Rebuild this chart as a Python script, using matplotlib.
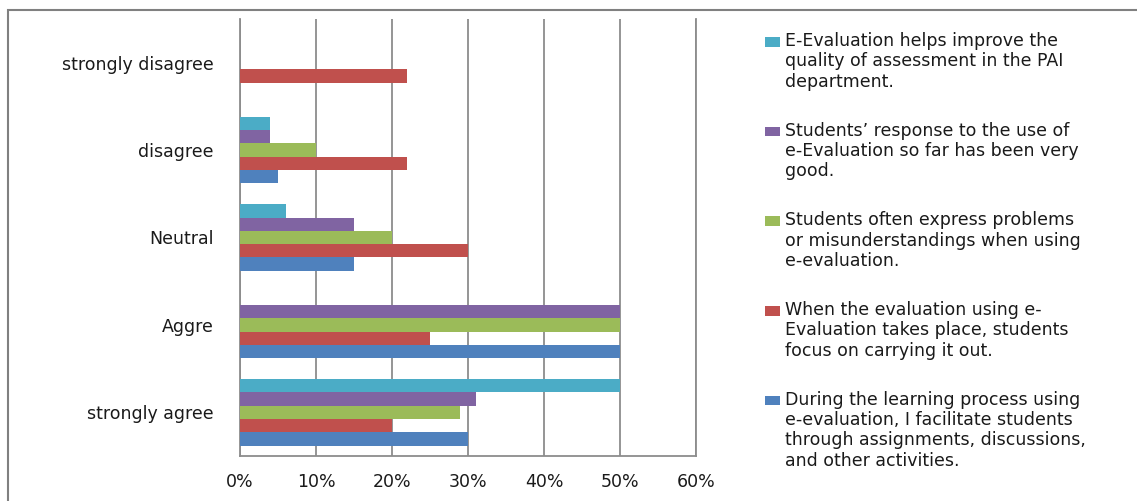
import matplotlib
matplotlib.use('Agg')
import matplotlib.pyplot as plt
from matplotlib.patches import Patch, Rectangle
from matplotlib.legend_handler import HandlerPatch
import numpy as np

# Categories (bottom to top as drawn)
categories = ['strongly agree', 'Aggre', 'Neutral', 'disagree', 'strongly disagree']

# Percentages per statement, same order as categories
during_learning = [30, 50, 15, 5, 0]
when_evaluation = [20, 25, 30, 22, 22]
often_problems = [29, 50, 20, 10, 0]
students_response = [31, 50, 15, 4, 0]
helps_improve = [50, 0, 6, 4, 0]

labels = [
    'During the learning process using\ne-evaluation, I facilitate students\nthrough assignments, discussions,\nand other activities.',
    'When the evaluation using e-\nEvaluation takes place, students\nfocus on carrying it out.',
    'Students often express problems\nor misunderstandings when using\ne-evaluation.',
    'Students\u2019 response to the use of\ne-Evaluation so far has been very\ngood.',
    'E-Evaluation helps improve the\nquality of assessment in the PAI\ndepartment.',
]
series = [during_learning, when_evaluation, often_problems, students_response, helps_improve]
colors = ['#4F81BD', '#C0504D', '#9BBB59', '#8064A2', '#4BACC6']
xticks = [0, 10, 20, 30, 40, 50, 60]

FS = 12.5
LS = 1.17

plt.rcParams['font.family'] = ['DejaVu Sans']

fig = plt.figure(figsize=(11.37, 5.01), dpi=100)
ax = fig.add_axes([240 / 1137, 1 - 456 / 501, 456 / 1137, 437 / 501])

y = np.arange(len(categories))
h = 0.152
for i, (vals, c) in enumerate(zip(series, colors)):
    ax.barh(y + (i - 2) * h, vals, height=h, color=c, zorder=3)

ax.set_xlim(0, 60)
ax.set_ylim(-0.5, 4.5)
ax.set_xticks(xticks)
ax.set_xticklabels([f'{v}%' for v in xticks], fontsize=FS, color='#1a1a1a')
ax.set_yticks(y)
ax.set_yticklabels(categories, fontsize=FS, color='#1a1a1a')
ax.tick_params(axis='x', length=0, pad=12)
ax.tick_params(axis='y', length=0, pad=19)
ax.grid(axis='x', color='#8C8C8C', linewidth=1.3, zorder=0)
ax.grid(axis='y', visible=False)
ax.spines['top'].set_visible(False)
for s in ['left', 'bottom', 'right']:
    ax.spines[s].set_color('#8C8C8C')
    ax.spines[s].set_linewidth(1.3)


# legend key sits next to the first line of each (multi-line) entry
def top_aligned(text):
    n = text.count('\n') + 1

    def make(legend, orig_handle, xdescent, ydescent, width, height, fontsize):
        shift = (n - 1) / 2 * LS * fontsize
        return Rectangle((-xdescent, -ydescent + shift), width, height)
    return HandlerPatch(patch_func=make)


handles = [Patch(facecolor=c, edgecolor='none') for c in colors][::-1]
leg_labels = labels[::-1]
leg = fig.legend(handles, leg_labels, loc='upper left',
                 bbox_to_anchor=(765 / 1137, 1 - 32 / 501),
                 frameon=False, fontsize=FS, handlelength=0.86,
                 handleheight=0.46, handletextpad=0.3, labelspacing=1.78,
                 borderaxespad=0, borderpad=0,
                 handler_map={hd: top_aligned(t) for hd, t in zip(handles, leg_labels)})
for t in leg.get_texts():
    t.set_linespacing(LS)
    t.set_color('#1a1a1a')

# outer chart frame
fig.patches.append(Rectangle((8 / 1137, -0.05), 1.1, 1 - 10 / 501 + 0.05,
                             transform=fig.transFigure, fill=False,
                             edgecolor='#808080', linewidth=1.5))

fig.savefig('out.png', dpi=100)
